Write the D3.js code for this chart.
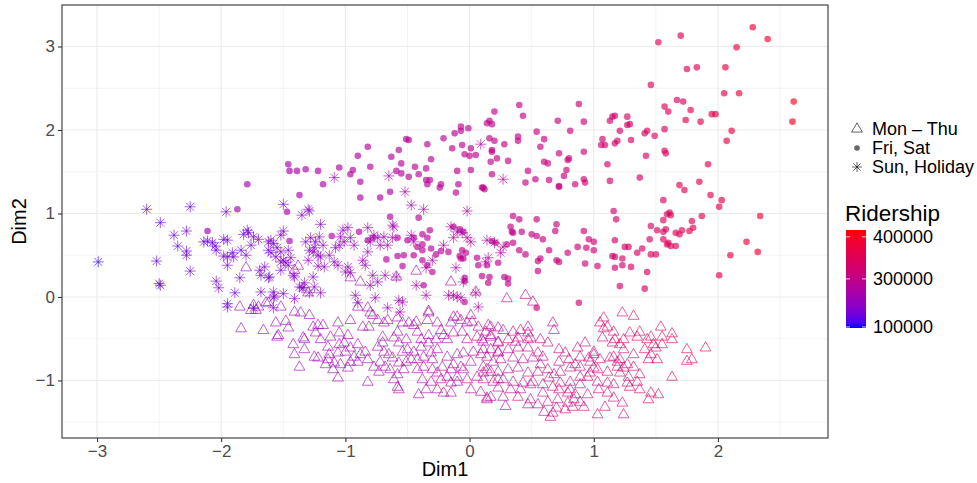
<!DOCTYPE html>
<html>
<head>
<meta charset="utf-8">
<script src="https://cdn.jsdelivr.net/npm/d3@7"></script>
<style>
  body { margin: 0; background: #fff; }
  text { font-family: "Liberation Sans", Arial, sans-serif; }
</style>
</head>
<body>
<div id="chart"></div>
<script>
// each point: [Dim1, Dim2, ridership in thousands]
const monThu = [
  [-1.84,-0.38,229],[-1.80,0.35,229],[-1.74,-0.10,230],[-1.76,-0.16,229],[-1.70,-0.12,230],[-1.72,-0.16,230],
  [-1.64,-0.07,231],[-1.56,-0.31,231],[-1.48,-0.29,233],[-1.46,-0.37,233],[-1.36,-0.19,236],[-1.29,-0.22,237],
  [-1.66,-0.40,230],[-1.55,-0.48,232],[-1.54,-0.46,232],[-1.42,-0.57,234],[-1.34,-0.49,236],[-1.33,-0.51,236],
  [-1.26,-0.36,238],[-1.22,-0.34,239],[-1.18,-0.34,240],[-1.24,-0.43,238],[-1.20,-0.51,240],[-1.14,-0.60,241],
  [-1.22,-0.73,239],[-1.14,-0.75,241],[-1.09,-0.79,243],[-1.16,-0.81,241],[-1.37,-0.84,235],[-1.05,-0.43,244],
  [-0.98,-0.46,246],[-1.05,-0.57,244],[-1.01,-0.55,245],[-0.96,-0.61,246],[-0.90,-0.57,248],[-0.98,-0.85,246],
  [-1.06,-0.97,243],[-0.93,-0.72,247],[-0.88,-0.69,248],[-0.84,-0.66,249],[-0.82,-0.75,250],[-0.90,-0.78,248],
  [-0.82,-1.02,250],[-0.86,-0.36,249],[-0.81,-0.36,250],[-0.78,-0.22,251],[-0.74,-0.28,252],[-0.70,-0.48,253],
  [-0.66,-0.28,254],[-0.70,-0.55,253],[-0.74,-0.60,252],[-0.69,-0.66,253],[-0.65,-0.69,254],[-0.72,-0.78,252],
  [-0.77,-0.84,251],[-0.68,-0.84,253],[-0.73,-0.90,252],[-0.58,-0.42,256],[-0.57,-0.55,256],[-0.51,-0.51,258],
  [-0.61,-0.49,255],[-0.54,-0.31,257],[-0.45,-0.34,260],[-0.42,-0.42,261],[-0.62,-0.73,255],[-0.57,-0.79,256],
  [-0.51,-0.78,258],[-0.64,-0.87,254],[-0.58,-0.93,256],[-0.53,-0.87,257],[-0.61,-0.99,255],[-0.58,-1.08,256],
  [-0.57,-1.11,256],[-0.50,-0.63,258],[-0.45,-0.66,260],[-0.39,-0.60,262],[-0.33,-0.55,263],[-0.42,-0.75,261],
  [-0.37,-0.72,262],[-0.31,-0.67,264],[-0.39,-0.51,262],[-0.33,-0.46,263],[-0.27,-0.51,265],[-0.21,-0.46,267],
  [-0.18,-0.51,268],[-0.33,-0.19,263],[-0.34,-0.28,263],[-0.26,-0.31,266],[-0.13,-0.24,270],[-0.07,-0.28,272],
  [0.01,-0.22,274],[0.02,-0.30,275],[0.15,-0.34,281],[-0.37,-0.84,262],[-0.30,-0.87,264],[-0.26,-0.91,266],
  [-0.38,-0.99,262],[-0.31,-1.02,264],[-0.23,-0.99,267],[-0.18,-0.96,268],[-0.41,-1.17,261],[-0.35,-1.11,263],
  [-0.26,-1.11,266],[-0.21,-1.15,267],[-0.15,-1.15,269],[-0.18,-0.72,268],[-0.10,-0.69,271],[-0.05,-0.67,272],
  [-0.13,-0.81,270],[-0.07,-0.84,272],[0.01,-0.78,274],[0.03,-0.66,275],[0.09,-0.69,278],[0.11,-0.63,279],
  [-0.13,-0.43,270],[-0.06,-0.42,272],[-0.02,-0.51,273],[0.06,-0.48,277],[0.11,-0.54,279],[0.17,-0.48,282],
  [0.23,-0.55,285],[-0.02,-0.99,273],[0.06,-0.96,277],[0.11,-0.91,279],[0.17,-0.90,282],[0.23,-0.99,285],
  [0.01,-1.11,274],[0.09,-1.14,278],[0.17,-1.20,282],[0.14,-1.23,281],[-0.15,-1.03,269],[-0.10,-1.02,271],
  [0.17,-0.36,282],[0.23,-0.37,285],[-0.96,0.23,246],[-0.88,0.18,248],[-0.59,0.24,255],[-0.43,0.31,260],
  [-0.15,0.18,269],[-0.33,-0.17,263],[0.05,0.06,276],[-0.10,-0.24,271],[-1.85,-0.12,229],[-1.62,-0.07,231],
  [-1.52,-0.12,232],[-1.41,-0.18,234],[-1.38,0.37,235],[-1.41,0.32,234],[-1.30,0.05,237],[-0.90,-0.12,248],
  [-0.82,-0.13,250],[-0.80,-0.19,250],[-0.43,-0.30,260],[0.30,-0.02,288],[0.45,0.02,295],[0.51,-0.06,298],
  [0.13,-0.42,280],[0.27,-0.40,287],[0.35,-0.42,290],[0.41,-0.40,293],[0.47,-0.36,296],[0.47,-0.43,296],
  [0.67,-0.31,305],[0.68,-0.40,305],[0.10,-0.51,279],[0.23,-0.54,285],[0.31,-0.51,288],[0.37,-0.54,291],
  [0.47,-0.51,296],[0.49,-0.49,297],[0.17,-0.63,282],[0.23,-0.66,285],[0.31,-0.63,288],[0.39,-0.61,292],
  [0.47,-0.61,296],[0.55,-0.67,300],[0.14,-0.72,281],[0.25,-0.75,286],[0.35,-0.73,290],[0.43,-0.75,294],
  [0.51,-0.73,298],[0.59,-0.72,301],[0.72,-0.63,307],[0.77,-0.67,310],[0.87,-0.61,314],[0.93,-0.55,317],
  [1.00,-0.66,320],[0.72,-0.78,307],[0.80,-0.75,311],[0.89,-0.72,315],[0.96,-0.73,318],[0.14,-0.87,281],
  [0.23,-0.90,285],[0.31,-0.87,288],[0.39,-0.85,292],[0.47,-0.91,296],[0.55,-0.90,300],[0.63,-0.87,303],
  [0.68,-0.93,305],[0.11,-0.99,279],[0.19,-1.02,283],[0.27,-0.99,287],[0.35,-1.02,290],[0.43,-1.03,294],
  [0.51,-1.02,298],[0.59,-1.05,301],[0.67,-1.08,305],[0.73,-1.03,308],[0.81,-1.02,311],[0.89,-1.05,315],
  [0.14,-1.21,281],[0.27,-1.20,287],[0.39,-1.20,292],[0.49,-1.23,297],[0.55,-1.29,300],[0.63,-1.26,303],
  [0.65,-1.44,304],[0.67,-1.39,305],[0.79,-1.27,310],[0.84,-1.23,313],[0.89,-1.26,315],[0.29,-1.31,288],
  [0.47,-1.29,296],[0.77,-1.35,310],[0.83,-1.32,312],[0.92,-1.32,316],[0.72,-1.11,307],[0.79,-1.15,310],
  [0.85,-1.17,313],[0.95,-1.17,318],[1.04,-1.11,322],[1.11,-1.15,324],[1.16,-1.21,326],[1.23,-1.27,329],
  [1.03,-1.41,321],[1.09,-1.32,323],[1.24,-1.41,329],[0.73,-0.90,308],[0.81,-0.85,311],[0.89,-0.84,315],
  [0.97,-0.91,319],[1.03,-0.87,321],[1.11,-0.90,324],[1.19,-0.84,327],[1.24,-0.85,329],[0.97,-0.78,319],
  [1.05,-0.75,322],[1.13,-0.73,325],[1.21,-0.75,328],[1.27,-0.81,330],[1.32,-0.84,332],[1.16,-0.72,326],
  [1.19,-0.78,327],[1.28,-0.96,331],[1.35,-1.02,333],[1.37,-0.93,334],[1.29,-1.08,331],[1.37,-1.11,334],
  [1.46,-1.15,337],[1.52,-1.17,340],[1.44,-1.23,336],[1.00,-0.85,320],[0.95,-0.96,318],[1.03,-1.02,321],
  [1.11,-1.03,324],[1.16,-1.05,326],[1.27,-1.03,330],[1.05,-0.31,330],[1.08,-0.25,331],[1.23,-0.19,337],
  [1.32,-0.23,340],[1.08,-0.38,331],[1.11,-0.36,332],[1.07,-0.49,331],[1.16,-0.42,334],[1.17,-0.51,333],
  [1.21,-0.57,332],[1.15,-0.55,330],[1.24,-0.63,332],[1.29,-0.43,339],[1.35,-0.48,341],[1.37,-0.42,342],
  [1.43,-0.51,343],[1.46,-0.48,345],[1.48,-0.57,344],[1.54,-0.36,348],[1.55,-0.48,348],[1.63,-0.44,351],
  [1.63,-0.51,350],[1.41,-0.63,338],[1.50,-0.61,341],[1.55,-0.57,343],[1.44,-0.75,336],[1.51,-0.75,339],
  [1.46,-0.69,338],[1.75,-0.63,350],[1.90,-0.61,355],[1.75,-0.77,347],[1.79,-0.75,349],[1.63,-0.96,343],
  [1.00,-0.69,320],[0.60,-1.38,302],[0.70,-1.33,306],
  [-1.13,-0.69,241],[-1.06,-0.67,243],[-1.00,-0.66,245],[-0.96,-0.78,246],[-1.04,-0.81,244],[-1.10,-0.87,242],
  [-0.54,-0.66,257],[-0.47,-0.75,259],[-0.42,-0.87,261],[-0.30,-0.75,264],[-0.26,-0.63,266],[-0.22,-0.84,267],
  [-0.15,-0.87,269],[-0.10,-0.96,271],[-0.05,-0.87,272],[0.11,-0.84,279],[0.19,-0.78,283],[0.23,-0.67,285],
  [0.07,-0.36,277],[-0.02,-0.31,273],[-0.15,-0.31,269],[-0.23,-0.40,267],[-0.49,-0.31,258],[-0.58,-0.25,256],
  [-0.69,-0.31,253],[-0.96,-0.28,246],[-1.06,-0.31,243],[-1.12,-0.48,242],[-1.33,-0.63,236],[-1.41,-0.69,234],
  [-1.25,-0.72,238],[0.17,-0.46,282],[0.39,-0.49,292],[0.57,-0.51,300],[0.63,-0.55,303],[0.57,-0.81,300],
  [0.64,-0.97,304],[0.49,-1.05,297],[0.33,-1.11,289],[0.23,-1.09,285],[0.41,-1.11,293],[0.59,-1.15,301],
  [0.71,-1.23,307],[0.81,-1.11,311],[0.89,-0.96,315],[0.85,-0.81,313],[1.21,-0.91,328],[1.32,-0.69,332],
  [1.24,-0.51,336]
];

const friSat = [
  [-1.79,1.35,249],[-1.87,1.05,248],[-2.11,0.79,245],[-1.46,1.59,258],[-1.45,1.51,258],[-1.39,1.51,260],
  [-1.32,1.53,262],[-1.22,1.51,264],[-1.37,1.22,260],[-1.18,1.35,265],[-1.05,1.55,269],[-0.94,1.52,271],
  [-0.96,1.47,271],[-0.90,1.69,272],[-0.82,1.80,274],[-0.80,1.56,274],[-0.88,1.38,273],[-0.88,1.19,273],
  [-0.72,1.19,276],[-0.64,1.26,278],[-0.63,1.68,278],[-0.57,1.76,279],[-0.51,1.89,280],[-0.49,1.88,281],
  [-0.55,1.60,279],[-0.59,1.51,279],[-0.55,1.48,279],[-0.49,1.44,281],[-0.44,1.56,282],[-0.41,1.47,282],
  [-0.34,1.83,284],[-0.31,1.65,284],[-0.35,1.54,284],[-0.35,1.40,284],[-0.32,1.40,284],[-0.34,1.35,284],
  [-0.23,1.35,286],[-0.24,1.31,286],[-0.21,1.90,287],[-0.14,1.78,288],[-0.12,1.96,288],[-0.07,2.04,290],
  [-0.07,1.99,290],[-0.01,2.02,291],[-0.06,1.82,290],[-0.04,1.71,290],[0.00,1.69,291],[0.05,1.70,293],
  [0.01,1.78,291],[-0.10,1.51,289],[0.01,1.52,291],[-0.09,1.35,289],[-0.11,1.25,289],[0.10,1.31,295],
  [0.11,1.31,295],[-1.47,1.02,258],[-0.64,0.96,278],[-0.41,0.95,282],[-0.32,0.80,284],[0.40,2.30,305],
  [0.43,2.17,306],[0.20,2.22,298],[0.14,2.08,296],[0.16,2.11,297],[0.18,2.07,297],[0.16,1.90,297],
  [0.20,1.87,298],[0.18,1.76,297],[0.18,1.74,297],[0.28,1.83,301],[0.22,1.66,299],[0.17,1.62,297],
  [0.31,1.63,302],[0.18,1.47,297],[0.12,1.29,295],[0.39,1.92,305],[0.39,1.87,305],[0.54,1.98,310],
  [0.60,1.89,312],[0.57,1.80,311],[0.71,2.11,316],[0.88,2.31,322],[0.92,2.10,323],[0.81,1.99,319],
  [0.72,1.72,316],[0.92,1.74,323],[0.60,1.62,312],[0.63,1.60,313],[0.80,1.66,319],[0.79,1.64,319],
  [0.78,1.52,318],[0.76,1.45,318],[0.47,1.51,307],[0.45,1.37,307],[0.53,1.41,310],[0.64,1.40,313],
  [0.72,1.33,316],[0.72,1.32,316],[0.85,1.35,321],[0.92,1.41,323],[0.93,1.37,324],[1.07,1.89,329],
  [1.06,1.82,328],[1.09,1.82,330],[1.13,2.11,331],[1.15,2.16,332],[1.17,2.17,333],[1.27,2.16,337],
  [1.29,2.07,338],[1.27,2.06,337],[1.21,1.99,334],[1.17,1.84,333],[1.19,1.87,334],[1.30,1.88,338],
  [1.11,1.59,330],[1.13,1.39,331],[1.37,1.43,341],[1.41,1.96,342],[1.43,1.99,343],[1.49,1.93,346],
  [1.42,1.69,343],[1.57,2.28,349],[1.60,2.22,350],[1.57,2.01,349],[1.57,1.75,349],[1.58,1.72,349],
  [1.56,1.16,348],[0.35,0.97,303],[0.40,0.93,305],[0.33,0.84,303],[0.34,0.78,303],[0.35,0.77,303],
  [0.42,0.78,306],[0.54,0.93,310],[0.50,0.75,308],[0.54,0.73,310],[0.59,0.69,312],[0.70,0.87,315],
  [0.69,0.79,315],[0.35,0.65,303],[0.40,0.56,305],[0.45,0.51,307],[0.64,0.56,313],[0.57,0.46,311],
  [0.55,0.43,310],[0.79,0.53,319],[0.87,0.60,321],[0.92,0.79,323],[0.96,0.69,325],[1.00,0.66,326],
  [0.94,0.59,324],[1.00,0.56,326],[0.93,0.40,324],[1.03,0.37,327],[1.16,1.03,332],[1.18,0.93,333],
  [1.17,0.68,333],[1.15,0.49,332],[1.17,0.48,333],[1.25,0.60,336],[1.28,0.60,337],[1.23,0.46,335],
  [1.17,0.35,333],[1.35,0.53,340],[1.39,0.58,342],[1.46,0.85,344],[1.45,0.69,344],[1.46,0.51,344],
  [1.50,0.51,346],[1.51,0.80,346],[1.56,0.78,348],[1.58,0.81,349],[1.56,0.92,348],[1.59,0.99,350],
  [1.56,0.69,348],[1.59,0.63,350],[1.52,3.05,350],[1.70,3.13,356],[2.28,3.23,384],[2.40,3.09,389],
  [2.15,2.99,378],[1.75,2.73,357],[1.83,2.75,361],[2.06,2.75,372],[1.46,2.54,348],[1.67,2.36,353],
  [1.72,2.34,356],[1.78,2.24,358],[1.74,2.12,357],[1.86,2.10,362],[1.95,2.19,366],[1.98,2.19,368],
  [2.05,2.44,371],[2.17,2.44,377],[2.61,2.34,405],[2.60,2.10,400],[2.11,1.99,374],[2.07,1.87,372],
  [1.92,1.59,365],[1.69,1.34,354],[1.73,1.28,356],[1.85,1.38,362],[1.94,1.22,366],[2.03,1.16,370],
  [2.01,1.08,369],[1.61,1.01,350],[1.62,0.98,351],[1.87,0.97,363],[2.34,0.97,385],[1.79,0.91,359],
  [1.66,0.77,353],[1.69,0.75,354],[1.71,0.80,355],[1.77,0.79,358],[1.80,0.83,359],[1.60,0.65,350],
  [1.62,0.61,351],[1.66,0.61,353],[2.23,0.66,380],[2.32,0.54,384],[2.10,0.50,374],[1.43,0.30,343],
  [2.01,0.26,369],[0.55,0.31,310],[0.70,0.44,315],[0.72,0.42,316],[0.06,0.47,293],[0.07,0.38,293],
  [0.14,0.38,296],[0.10,0.25,295],[0.16,0.24,297],[0.15,0.17,296],[0.28,0.24,301],[0.31,0.22,302],
  [0.31,0.16,302],[0.30,0.63,301],[0.23,0.41,299],[0.88,-0.07,322],[1.30,0.36,338],[1.21,0.13,334],
  [1.41,0.10,342],[1.23,0.38,335],[0.18,0.67,297],[0.21,0.65,298],[-0.05,0.46,290],[-0.04,0.23,290],
  [-0.04,0.19,290],[-0.06,0.56,290],[-0.08,0.49,289],[-0.07,0.46,290],[0.54,-0.13,310],[-1.11,0.73,268],
  [-0.89,0.78,272],[-1.45,0.67,258],[-0.82,0.68,274],[-0.78,0.71,275],[-0.67,0.45,277],[-0.58,0.71,279],
  [-0.50,0.68,281],[-0.45,0.71,282],[-0.38,0.75,283],[-0.34,0.71,284],[-0.38,0.63,283],[-0.58,0.49,279],
  [-0.53,0.50,280],[-0.54,0.37,280],[-0.45,0.50,282],[-0.38,0.56,283],[-0.42,0.60,282],[-0.31,0.58,284],
  [-0.27,0.51,285],[-0.23,0.55,286],[-0.34,0.38,284],[-0.30,0.30,285],[-0.38,0.44,283],[-0.37,0.14,283],
  [-0.17,0.54,287],[-0.13,0.84,288],[-0.08,0.81,289],[-0.05,0.78,290],[-0.03,0.53,290],[-0.04,-0.06,290]
];

const sunHoliday = [
  [-2.99,0.42,116],[-2.60,1.05,149],[-2.25,1.08,169],[-2.49,0.89,157],[-2.52,0.43,155],[-2.50,0.16,157],
  [-2.49,0.14,157],[-2.25,0.31,169],[-2.38,0.74,163],[-2.28,0.79,168],[-2.35,0.61,164],[-2.28,0.55,168],
  [-2.28,0.50,168],[-1.96,1.02,183],[-2.14,0.66,174],[-2.11,0.67,176],[-2.07,0.65,178],[-2.05,0.61,179],
  [-1.98,0.69,182],[-1.95,0.68,183],[-2.04,0.56,179],[-1.98,0.49,182],[-1.95,0.48,183],[-1.95,0.38,183],
  [-1.91,0.53,185],[-1.90,0.48,185],[-1.84,0.56,188],[-1.79,0.80,190],[-1.78,0.77,190],[-1.82,0.75,189],
  [-1.70,0.69,194],[-1.85,0.23,187],[-2.04,0.19,179],[-2.02,0.11,180],[-1.89,0.05,186],[-1.95,-0.08,183],
  [-1.95,-0.12,183],[-1.68,0.06,194],[-1.58,0.06,199],[-1.57,0.01,199],[-1.74,-0.13,192],[-1.50,1.11,202],
  [-1.30,1.05,212],[-1.29,1.03,213],[-1.35,0.98,210],[-1.50,0.79,202],[-1.52,0.74,201],[-1.60,0.68,198],
  [-1.58,0.64,199],[-1.62,0.56,197],[-1.55,0.59,200],[-1.52,0.54,201],[-1.46,0.56,204],[-1.44,0.47,205],
  [-1.50,0.44,202],[-1.48,0.41,203],[-1.52,0.32,201],[-1.41,0.24,207],[-1.65,0.36,196],[-1.61,0.24,197],
  [-1.69,0.32,194],[-1.32,0.66,211],[-1.26,0.54,214],[-1.22,0.50,217],[-1.30,0.44,212],[-1.26,0.24,214],
  [-1.35,0.11,210],[-1.29,0.05,213],[-1.41,-0.02,207],[-1.25,0.12,215],[-1.58,-0.13,199],[-1.20,0.87,218],
  [-1.74,0.72,192],[-1.76,0.62,191],[-1.80,0.50,189],[-1.62,0.66,197],[-1.60,0.53,198],[-1.56,0.48,199],
  [-1.52,0.42,201],[-1.68,0.26,194],[-1.62,0.23,197],[-1.46,0.38,204],[-1.42,0.26,206],[-1.37,0.12,209],
  [-1.34,0.11,210],[-1.50,0.04,202],[-1.58,-0.01,199],[-1.28,0.71,213],[-1.24,0.66,216],[-1.21,0.72,217],
  [-1.18,0.62,219],[-1.25,0.59,215],[-1.29,0.56,213],[-1.20,0.48,218],[-1.13,0.50,221],[-1.09,0.42,223],
  [-1.06,0.38,225],[-1.17,0.36,219],[-1.22,0.37,217],[-1.33,0.17,211],[-1.20,0.05,218],[-1.02,0.80,227],
  [-0.98,0.83,229],[-1.04,0.72,226],[-1.01,0.66,227],[-0.96,0.71,230],[-1.05,0.62,225],[-1.08,0.59,224],
  [-0.93,0.62,231],[-1.00,0.30,228],[-0.96,0.29,230],[-0.98,0.36,229],[-0.82,0.83,236],[-0.77,0.74,238],
  [-0.80,0.66,236],[-0.74,0.71,239],[-0.72,0.62,240],[-0.82,0.54,236],[-0.86,0.44,234],[-0.84,0.38,235],
  [-0.78,0.26,237],[-0.74,0.18,239],[-0.80,0.14,236],[-0.69,0.72,241],[-0.66,0.62,242],[-0.61,0.84,244],
  [-0.62,0.71,244],[-0.68,0.26,241],[-0.59,0.24,245],[-0.92,0.02,231],[-0.90,-0.07,232],[-0.76,-0.01,238],
  [-0.47,1.10,250],[-0.37,1.05,255],[-0.47,0.74,250],[-0.45,0.66,251],[-0.62,0.86,244],[-0.30,0.44,258],
  [-0.35,0.35,256],[-0.21,0.62,262],[-0.15,0.84,264],[-0.13,0.71,265],[-0.10,0.78,267],[-0.06,0.77,268],
  [-0.02,0.71,270],[0.01,0.66,271],[-0.02,1.03,270],[0.14,0.68,275],[0.15,0.47,276],[-0.17,0.02,264],
  [-0.13,0.02,265],[-0.07,-0.01,268],[-0.43,0.14,252],[-0.35,0.02,256],[-0.57,-0.04,246],[-0.54,-0.06,247],
  [-0.66,-0.13,242],[-0.56,-0.18,246],[0.07,-0.12,273],[-1.09,1.43,223],[-0.65,1.45,243],[-0.52,1.26,248],
  [0.09,1.83,274],[0.27,1.41,279],[0.20,0.65,277],[0.27,0.60,279],[0.25,0.53,278],[0.13,0.42,275],
  [-0.11,0.35,266],[-0.05,0.18,269],[-0.10,0.00,267],[0.05,0.05,273]
];

const xTicks = [-3, -2, -1, 0, 1, 2];
const yTicks = [-1, 0, 1, 2, 3];
const xMinor = [-2.5, -1.5, -0.5, 0.5, 1.5, 2.5];
const yMinor = [-1.5, -0.5, 0.5, 1.5, 2.5];
const ridershipTicks = [100000, 300000, 400000];
const ridershipLimits = [91000, 414000];
const dayTypes = ["Mon \u2013 Thu", "Fri, Sat", "Sun, Holiday"];

const W = 977, H = 483;
const panel = {left: 62, right: 828, top: 5, bottom: 438};

const svg = d3.select("#chart").append("svg")
  .attr("width", W).attr("height", H);

const x = d3.scaleLinear().domain([-3.282, 2.886]).range([panel.left, panel.right]);
const y = d3.scaleLinear().domain([-1.689, 3.497]).range([panel.bottom, panel.top]);

// ggplot gradient blue -> red, colourbar shows a squared scale
const color = d3.scaleSequentialPow(d3.interpolateLab("#0000ff", "#ff0000"))
  .exponent(2).domain(ridershipLimits);
const col = d => color(d[2] * 1000);

// grid
const grid = svg.append("g");
grid.selectAll(".xminor").data(xMinor).enter().append("line")
  .attr("x1", d => x(d)).attr("x2", d => x(d))
  .attr("y1", panel.top).attr("y2", panel.bottom)
  .attr("stroke", "#ebebeb").attr("stroke-width", 0.6);
grid.selectAll(".yminor").data(yMinor).enter().append("line")
  .attr("y1", d => y(d)).attr("y2", d => y(d))
  .attr("x1", panel.left).attr("x2", panel.right)
  .attr("stroke", "#ebebeb").attr("stroke-width", 0.6);
grid.selectAll(".xmajor").data(xTicks).enter().append("line")
  .attr("x1", d => x(d)).attr("x2", d => x(d))
  .attr("y1", panel.top).attr("y2", panel.bottom)
  .attr("stroke", "#ebebeb").attr("stroke-width", 1.1);
grid.selectAll(".ymajor").data(yTicks).enter().append("line")
  .attr("y1", d => y(d)).attr("y2", d => y(d))
  .attr("x1", panel.left).attr("x2", panel.right)
  .attr("stroke", "#ebebeb").attr("stroke-width", 1.1);

// points
const tri = d3.symbol().type(d3.symbolTriangle).size(50);
function asterisk(r) {
  const a = r * 0.72;
  return `M${-r},0L${r},0M0,${-r}L0,${r}M${-a},${-a}L${a},${a}M${-a},${a}L${a},${-a}`;
}

const pts = svg.append("g");
pts.selectAll(".tri").data(monThu).enter().append("path")
  .attr("d", tri)
  .attr("transform", d => `translate(${x(d[0])},${y(d[1])})`)
  .attr("fill", "none")
  .attr("stroke", col)
  .attr("stroke-opacity", 0.62)
  .attr("stroke-width", 1);

pts.selectAll(".dot").data(friSat).enter().append("circle")
  .attr("cx", d => x(d[0])).attr("cy", d => y(d[1]))
  .attr("r", 3.3)
  .attr("fill", col)
  .attr("fill-opacity", 0.65);

pts.selectAll(".star").data(sunHoliday).enter().append("path")
  .attr("d", asterisk(5.5))
  .attr("transform", d => `translate(${x(d[0])},${y(d[1])})`)
  .attr("fill", "none")
  .attr("stroke", col)
  .attr("stroke-opacity", 0.62)
  .attr("stroke-width", 1);

// panel border
svg.append("rect")
  .attr("x", panel.left).attr("y", panel.top)
  .attr("width", panel.right - panel.left).attr("height", panel.bottom - panel.top)
  .attr("fill", "none").attr("stroke", "#333").attr("stroke-width", 1.1);

// axes
const fmt = d3.format("d");
const xAxis = svg.append("g")
  .attr("transform", `translate(0,${panel.bottom})`)
  .call(d3.axisBottom(x).tickValues(xTicks).tickFormat(fmt).tickSize(4).tickPadding(3));
const yAxis = svg.append("g")
  .attr("transform", `translate(${panel.left},0)`)
  .call(d3.axisLeft(y).tickValues(yTicks).tickFormat(fmt).tickSize(4).tickPadding(3));
[xAxis, yAxis].forEach(g => {
  g.select(".domain").remove();
  g.selectAll(".tick line").attr("stroke", "#333").attr("stroke-width", 1.1);
  g.selectAll(".tick text").attr("fill", "#4d4d4d")
    .style("font-size", "17px").style("font-family", "Liberation Sans, Arial, sans-serif");
});

svg.append("text")
  .attr("x", (panel.left + panel.right) / 2).attr("y", 476)
  .attr("text-anchor", "middle").style("font-size", "20px")
  .text("Dim1");
svg.append("text")
  .attr("transform", `translate(26,${(panel.top + panel.bottom) / 2}) rotate(-90)`)
  .attr("text-anchor", "middle").style("font-size", "20px")
  .text("Dim2");

// shape legend
const leg = svg.append("g").attr("transform", "translate(857,0)");
const legY = [129, 148, 167];
leg.append("path").attr("d", d3.symbol().type(d3.symbolTriangle).size(50))
  .attr("transform", `translate(0,${legY[0]})`)
  .attr("fill", "none").attr("stroke", "#000").attr("stroke-opacity", 0.6);
leg.append("circle").attr("cx", 0).attr("cy", legY[1]).attr("r", 2.8)
  .attr("fill", "#000").attr("fill-opacity", 0.6);
leg.append("path").attr("d", asterisk(5))
  .attr("transform", `translate(0,${legY[2]})`)
  .attr("fill", "none").attr("stroke", "#000").attr("stroke-opacity", 0.6);
leg.selectAll(".lt").data(dayTypes).enter().append("text")
  .attr("x", 15).attr("y", (d, i) => legY[i])
  .attr("dy", "0.35em").style("font-size", "18px")
  .text(d => d);

// colourbar
const bar = {x: 846, w: 20, top: 230, bottom: 328};
const barScale = d3.scalePow().exponent(2).domain(ridershipLimits).range([bar.bottom, bar.top]);
const grad = svg.append("defs").append("linearGradient")
  .attr("id", "ridegrad").attr("x1", 0).attr("x2", 0).attr("y1", 1).attr("y2", 0);
d3.range(0, 1.0001, 0.05).forEach(f => {
  grad.append("stop").attr("offset", f)
    .attr("stop-color", color(barScale.invert(bar.bottom - f * (bar.bottom - bar.top))));
});
svg.append("text").attr("x", 845).attr("y", 221)
  .style("font-size", "22.5px").text("Ridership");
svg.append("rect").attr("x", bar.x).attr("y", bar.top)
  .attr("width", bar.w).attr("height", bar.bottom - bar.top)
  .attr("fill", "url(#ridegrad)");
const cb = svg.append("g");
ridershipTicks.forEach(v => {
  const yy = barScale(v);
  cb.append("line").attr("x1", bar.x).attr("x2", bar.x + 4).attr("y1", yy).attr("y2", yy)
    .attr("stroke", "#fff").attr("stroke-opacity", 0.8);
  cb.append("line").attr("x1", bar.x + bar.w - 4).attr("x2", bar.x + bar.w).attr("y1", yy).attr("y2", yy)
    .attr("stroke", "#fff").attr("stroke-opacity", 0.8);
  cb.append("text").attr("x", 873).attr("y", yy).attr("dy", "0.35em")
    .style("font-size", "18px").text(v);
});
</script>
</body>
</html>
